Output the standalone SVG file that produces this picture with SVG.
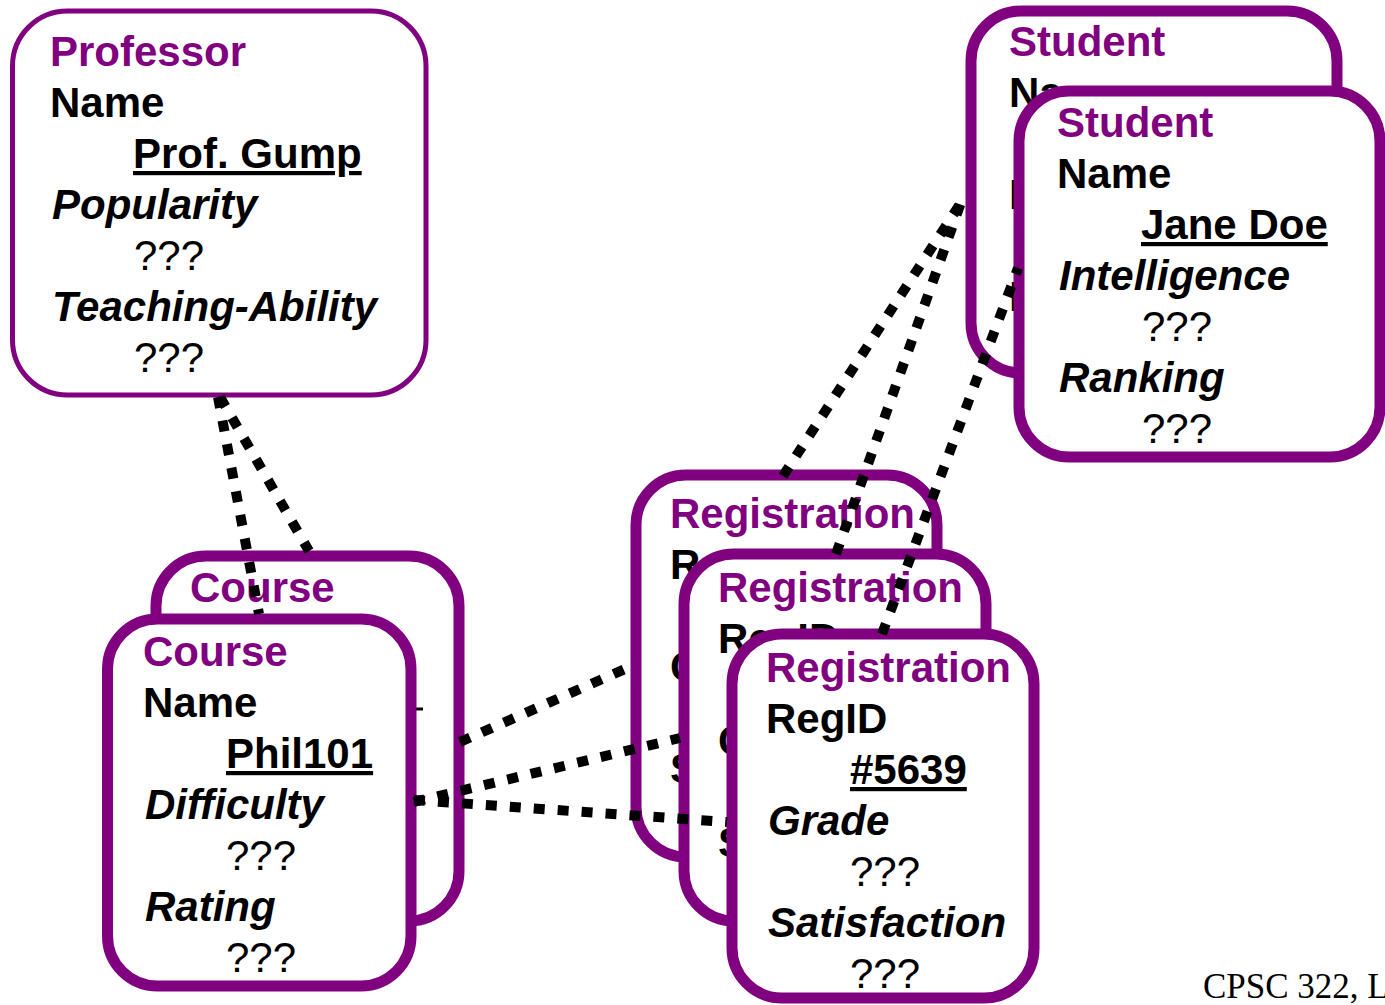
<svg xmlns="http://www.w3.org/2000/svg" width="1385" height="1005" viewBox="0 0 1385 1005">
<style>
.box{fill:#fff;stroke:#800080;stroke-width:11}
.pbox{fill:#fff;stroke:#800080;stroke-width:5}
text{font-family:"Liberation Sans",Arial,sans-serif;font-size:42px}
.t{font-weight:bold;fill:#800080}
.b{font-weight:bold;fill:#000}
.u{font-weight:bold;fill:#000;text-decoration:underline}
.i{font-weight:bold;font-style:italic;fill:#000}
.q{fill:#000}
.c{fill:none;stroke:#000;stroke-width:10;stroke-dasharray:11 13}
.foot{font-family:"Liberation Serif","Times New Roman",serif;font-size:35px;fill:#000}
</style>
<rect width="1385" height="1005" fill="#fff"/>
<g id="professor">
<rect class="pbox" x="12.5" y="11" width="413.5" height="384" rx="55"/>
<text class="t" x="50" y="66">Professor</text>
<text class="b" x="50" y="117">Name</text>
<text class="u" x="133" y="168">Prof. Gump</text>
<text class="i" x="52" y="219">Popularity</text>
<text class="q" x="134" y="270">???</text>
<text class="i" x="52" y="321">Teaching-Ability</text>
<text class="q" x="134" y="372">???</text>
</g>
<g id="course-back">
<rect class="box" x="156" y="556" width="303" height="365" rx="50"/>
<text class="t" x="190" y="602">Course</text>
<line x1="414" y1="709" x2="423" y2="709" stroke="#000" stroke-width="3"/>
</g>
<g id="course-front">
<rect class="box" x="107.5" y="619" width="303.5" height="367" rx="50"/>
<text class="t" x="143" y="666">Course</text>
<text class="b" x="143" y="717">Name</text>
<text class="u" x="226" y="768">Phil101</text>
<text class="i" x="145" y="819">Difficulty</text>
<text class="q" x="226" y="870">???</text>
<text class="i" x="145" y="921">Rating</text>
<text class="q" x="226" y="972">???</text>
</g>
<g id="student-back">
<rect class="box" x="971" y="11" width="366" height="362" rx="50"/>
<text class="t" x="1009" y="56">Student</text>
<text class="b" x="1009" y="107">Na</text>
<text class="b" x="1009" y="209">I</text>
<text class="b" x="1009" y="311">I</text>
</g>
<g id="student-front">
<rect class="box" x="1019" y="91" width="361" height="366" rx="50"/>
<text class="t" x="1057" y="137">Student</text>
<text class="b" x="1057" y="188">Name</text>
<text class="u" x="1141" y="239">Jane Doe</text>
<text class="i" x="1059" y="290">Intelligence</text>
<text class="q" x="1142" y="341">???</text>
<text class="i" x="1059" y="392">Ranking</text>
<text class="q" x="1142" y="443">???</text>
</g>
<g id="registration-back">
<rect class="box" x="636" y="475" width="301" height="382" rx="50"/>
<text class="t" x="670" y="528">Registration</text>
<text class="b" x="670" y="579">R</text>
<text class="b" x="670" y="681">G</text>
<text class="b" x="670" y="783">S</text>
</g>
<g id="registration-middle">
<rect class="box" x="684" y="554" width="302" height="367" rx="50"/>
<text class="t" x="718" y="602">Registration</text>
<text class="b" x="718" y="653">RegID</text>
<text class="b" x="718" y="755">G</text>
<text class="b" x="718" y="857">S</text>
</g>
<g id="registration-front">
<rect class="box" x="732" y="634" width="302" height="364" rx="50"/>
<text class="t" x="766" y="682">Registration</text>
<text class="b" x="766" y="733">RegID</text>
<text class="u" x="850" y="784">#5639</text>
<text class="i" x="768" y="835">Grade</text>
<text class="q" x="850" y="886">???</text>
<text class="i" x="768" y="937">Satisfaction</text>
<text class="q" x="850" y="988">???</text>
</g>
<g id="connectors">
<line class="c" x1="220" y1="397" x2="309" y2="551"/>
<line class="c" x1="218" y1="397" x2="259" y2="614"/>
<line class="c" x1="460" y1="742" x2="634" y2="665"/>
<line class="c" x1="414" y1="802" x2="680" y2="738"/>
<line class="c" x1="414" y1="800" x2="727" y2="822"/>
<line class="c" x1="783" y1="476" x2="966" y2="195"/>
<line class="c" x1="836" y1="554" x2="964" y2="194"/>
<line class="c" x1="882" y1="634" x2="1018" y2="268"/>
</g>
<text class="foot" x="1203" y="998">CPSC 322, L</text>
</svg>
